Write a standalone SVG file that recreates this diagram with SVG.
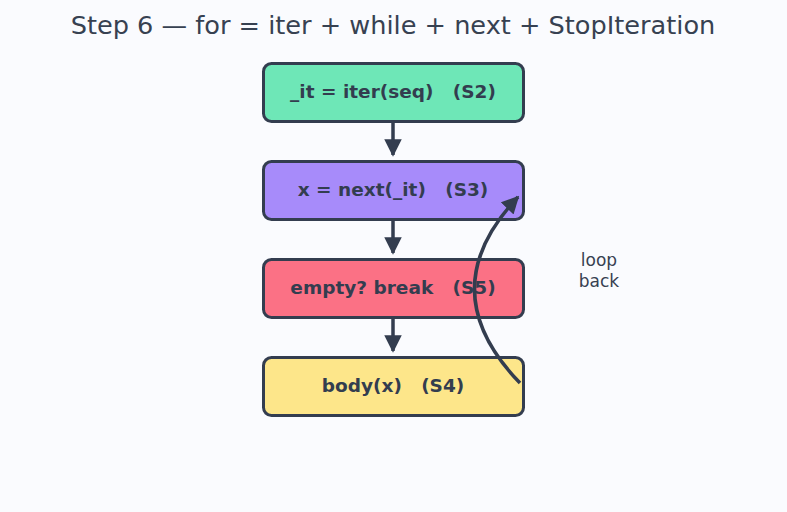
<svg xmlns="http://www.w3.org/2000/svg" width="787" height="512" viewBox="0 0 787 512">
  <style>
    .title { font-family: "DejaVu Sans", sans-serif; font-size: 25.6px; fill: #374151; text-anchor: middle; }
    .box { stroke: #333d4f; stroke-width: 3; }
    .lbl { font-family: "DejaVu Sans", sans-serif; font-size: 18.5px; font-weight: bold; fill: #333d4f; text-anchor: middle; white-space: pre; }
    .note { font-family: "DejaVu Sans", sans-serif; font-size: 17px; fill: #374151; text-anchor: middle; }
    .edge { stroke: #333d4f; stroke-width: 3.5; fill: none; marker-end: url(#head); }
  </style>
  <defs>
    <marker id="head" viewBox="0 0 10 10" refX="9" refY="5" markerWidth="5" markerHeight="5" orient="auto" markerUnits="strokeWidth">
      <path d="M0,0 L10,5 L0,10 z" fill="#333d4f"/>
    </marker>
  </defs>
  <rect width="787" height="512" fill="#fafbfe"/>
  <text class="title" x="393" y="34">Step 6 — for = iter + while + next + StopIteration</text>

  <g id="s2">
    <rect class="box" x="263.5" y="63.5" width="260" height="58" rx="8" fill="#6ee7b7"/>
    <text class="lbl" x="393" y="98" xml:space="preserve">_it = iter(seq)   (S2)</text>
  </g>
  <g id="s3">
    <rect class="box" x="263.5" y="161.5" width="260" height="58" rx="8" fill="#a78bfa"/>
    <text class="lbl" x="393" y="196" xml:space="preserve">x = next(_it)   (S3)</text>
  </g>
  <g id="s5">
    <rect class="box" x="263.5" y="259.5" width="260" height="58" rx="8" fill="#fb7185"/>
    <text class="lbl" x="393" y="294" xml:space="preserve">empty? break   (S5)</text>
  </g>
  <g id="s4">
    <rect class="box" x="263.5" y="357.5" width="260" height="58" rx="8" fill="#fde68a"/>
    <text class="lbl" x="393" y="392" xml:space="preserve">body(x)   (S4)</text>
  </g>

  <g id="connectors">
    <path class="edge" d="M393,122 L393,155"/>
    <path class="edge" d="M393,220 L393,253"/>
    <path class="edge" d="M393,318 L393,351"/>
    <path class="edge" d="M520,383 Q430,290 518,197"/>
  </g>

  <g id="loop-label">
    <text class="note" x="599" y="266">loop</text>
    <text class="note" x="599" y="287">back</text>
  </g>
</svg>
